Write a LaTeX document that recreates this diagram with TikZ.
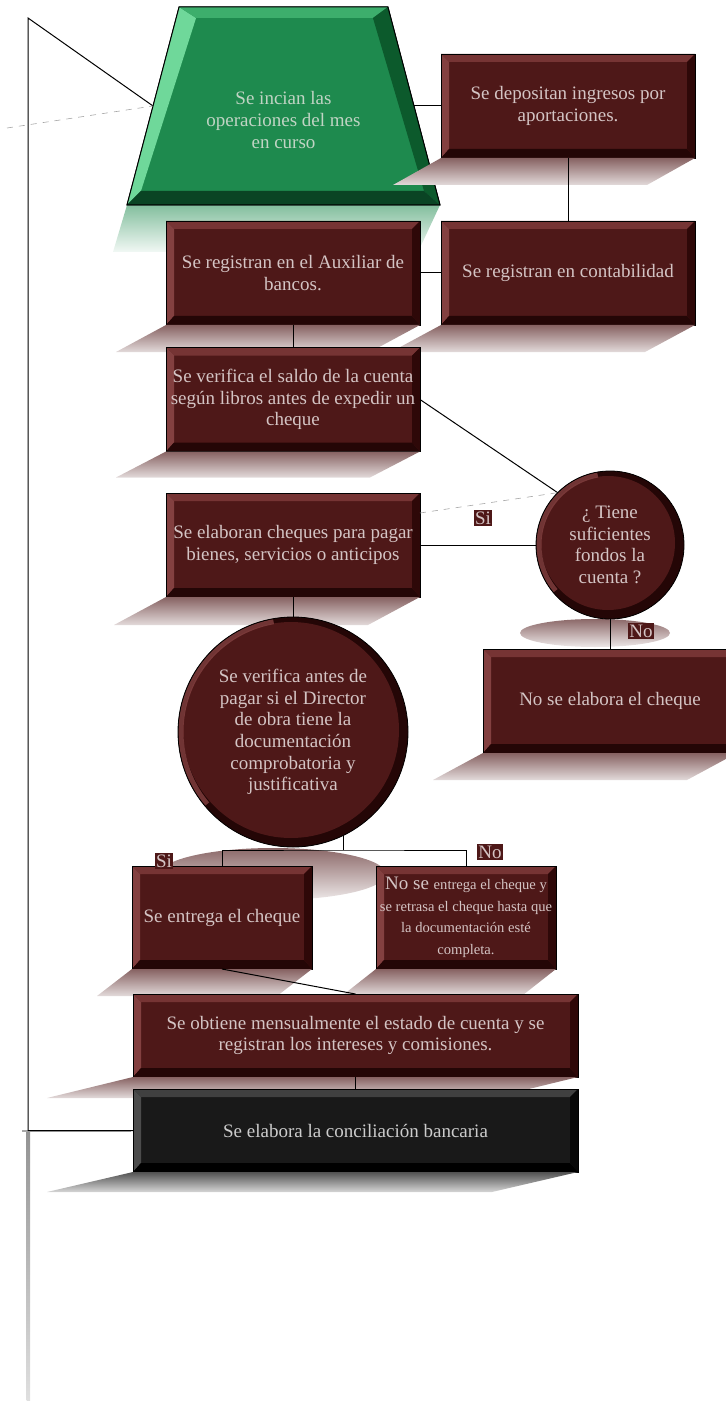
\documentclass[tikz,border=0pt]{standalone}
\usepackage{fontspec}
\setmainfont{Liberation Serif}
\definecolor{boxred}{HTML}{4E1818}
\definecolor{boxtext}{HTML}{D4C4C4}
\definecolor{bevtop}{HTML}{763434}
\definecolor{bevleft}{HTML}{834040}
\definecolor{bevbottom}{HTML}{240606}
\definecolor{bevright}{HTML}{2E0808}
\definecolor{startgreen}{HTML}{1E8A4E}
\definecolor{greentext}{HTML}{C0D4C4}
\definecolor{greenleft}{HTML}{6FD89A}
\definecolor{greentop}{HTML}{3DAE6C}
\definecolor{greenright}{HTML}{0C5A2C}
\definecolor{greenbottom}{HTML}{0A4424}
\usetikzlibrary{shapes.geometric}

\newcommand{\boxfont}{\fontsize{9.5}{10.8}\selectfont}
\newcommand{\smallfont}{\fontsize{7.3}{10.8}\selectfont}

% bevelled edges of a box: top, left, bottom, right colour
\newcommand{\bevel}[4]{%
  \fill[#1] (path picture bounding box.north west) -- (path picture bounding box.north east)
    -- ([shift={(-4pt,-4pt)}]path picture bounding box.north east)
    -- ([shift={(4pt,-4pt)}]path picture bounding box.north west) -- cycle;
  \fill[#2] (path picture bounding box.north west) -- (path picture bounding box.south west)
    -- ([shift={(4pt,4.5pt)}]path picture bounding box.south west)
    -- ([shift={(4pt,-4pt)}]path picture bounding box.north west) -- cycle;
  \fill[#3] (path picture bounding box.south west) -- (path picture bounding box.south east)
    -- ([shift={(-4pt,4.5pt)}]path picture bounding box.south east)
    -- ([shift={(4pt,4.5pt)}]path picture bounding box.south west) -- cycle;
  \fill[#4] (path picture bounding box.north east) -- (path picture bounding box.south east)
    -- ([shift={(-4pt,4.5pt)}]path picture bounding box.south east)
    -- ([shift={(-4pt,-4pt)}]path picture bounding box.north east) -- cycle;}

% rim of a round node, #1 = radius
\newcommand{\rim}[1]{%
  \fill[bevbottom] (path picture bounding box.center) circle[radius=#1];
  \fill[boxred] ([shift={(-1pt,1pt)}]path picture bounding box.center) circle[radius=#1-3.5pt];
  \draw[bevleft, line width=2.5pt, opacity=.8]
    ([shift={(100:#1-1.5pt)}]path picture bounding box.center)
    arc[start angle=100, end angle=220, radius=#1-1.5pt];}

% slanted reflection under a box: node, shift to the left, height, colour
\newcommand{\mirror}[4]{%
  \shade[top color=#4!68!white, bottom color=#4!16!white]
    (#1.south west) -- (#1.south east) -- ([shift={(-#2,#3)}]#1.south east)
    -- ([shift={(-#2,#3)}]#1.south west) -- cycle;}

\begin{document}
\begin{tikzpicture}[x=0.5pt, y=-0.5pt,
    redbox/.style={rectangle, draw=black, fill=boxred, outer sep=0pt, inner sep=1pt,
                   minimum width=127pt, minimum height=52pt,
                   text=boxtext, font=\boxfont, align=center,
                   path picture={\bevel{bevtop}{bevleft}{bevbottom}{bevright}}},
    smallred/.style={redbox, minimum width=90pt, minimum height=51.5pt},
    widebox/.style={redbox, minimum width=222.5pt, minimum height=41.5pt},
    darkbox/.style={widebox, fill=black!90, text=black!20,
                    path picture={\bevel{black!75}{black!70}{black}{black!97}}},
    roundnode/.style={circle, draw=black, fill=boxred, outer sep=0pt, inner sep=0pt,
                      minimum size=2*#1, text=boxtext, font=\boxfont, align=center,
                      path picture={\rim{#1}}},
    startshape/.style={trapezium, trapezium stretches=true,
                       trapezium left angle=76, trapezium right angle=76,
                       minimum width=156.5pt, minimum height=99pt,
                       draw=black, fill=startgreen, outer sep=0pt},
    greenlabel/.style={text=greentext, font=\boxfont, align=center},
    lbl/.style={fill=boxred, text=boxtext, font=\boxfont, inner sep=0.6pt},
    link/.style={draw=black, line width=0.5pt},
    ghost/.style={draw=gray!70, dashed, line width=0.3pt}
  ]
  \useasboundingbox (0,0) rectangle (725,1401);

  % start of the month
  \shade[top color=startgreen!55!white, bottom color=startgreen!6!white]
    (127,205) -- (440,205) -- (418,252) -- (113,252) -- cycle;
  \node[startshape] (start) at (283.5,106) {};
  \fill[greenleft] (start.bottom left corner) -- (start.top left corner)
    -- ([shift={(17,11)}]start.top left corner) -- ([shift={(14,-14)}]start.bottom left corner) -- cycle;
  \fill[greentop] (start.top left corner) -- (start.top right corner)
    -- ([shift={(-15,11)}]start.top right corner) -- ([shift={(17,11)}]start.top left corner) -- cycle;
  \fill[greenright] (start.top right corner) -- (start.bottom right corner)
    -- ([shift={(-16,-14)}]start.bottom right corner) -- ([shift={(-15,11)}]start.top right corner) -- cycle;
  \fill[greenbottom] (start.bottom left corner) -- (start.bottom right corner)
    -- ([shift={(-16,-14)}]start.bottom right corner) -- ([shift={(14,-14)}]start.bottom left corner) -- cycle;
  \draw[line width=0.5pt] (start.bottom left corner) -- (start.top left corner)
    -- (start.top right corner) -- (start.bottom right corner) -- cycle;
  \node[greenlabel] (starttext) at (283.5,120) {Se incian las\\operaciones del mes\\en curso};

  \node[redbox] (dep) at (568,106) {Se depositan ingresos por\\aportaciones.};
  \mirror{dep}{48}{27}{boxred}
  \node[redbox] (aux) at (293,273) {Se registran en el Auxiliar de\\bancos.};
  \mirror{aux}{50}{27}{boxred}
  \node[redbox] (cont) at (568,273) {Se registran en contabilidad};
  \mirror{cont}{50}{27}{boxred}
  \node[redbox] (saldo) at (293,399.5) {Se verifica el saldo de la cuenta\\según libros antes de expedir un\\cheque};
  \mirror{saldo}{50}{26}{boxred}
  \node[redbox] (elab) at (293,545) {Se elaboran cheques para pagar\\bienes, servicios o anticipos};
  \mirror{elab}{52}{28}{boxred}

  % decisions
  \shade[top color=boxred!65!white, bottom color=boxred!10!white] (595,633) ellipse[x radius=75, y radius=14];
  \node[roundnode=37pt] (chk) at (610,545) {¿ Tiene\\suficientes\\fondos la\\cuenta ?};
  \node[redbox] (noelab) at (610,701) {No se elabora el cheque};
  \mirror{noelab}{50}{27}{boxred}
  \shade[top color=boxred!65!white, bottom color=boxred!10!white] (273,874) ellipse[x radius=113, y radius=26];
  \node[roundnode=57.5pt] (ver) at (293,732) {Se verifica antes de\\pagar si el Director\\de obra tiene la\\documentación\\comprobatoria y\\justificativa};

  \node[smallred] (entrega) at (222,917.5) {Se entrega el cheque};
  \mirror{entrega}{35}{27}{boxred}
  \node[smallred] (noentrega) at (466,917.5) {No se {\smallfont entrega el cheque y}\\{\smallfont se retrasa el cheque hasta que}\\{\smallfont la documentación esté}\\{\smallfont completa.}};
  \mirror{noentrega}{33}{26}{boxred}

  \node[widebox] (mensual) at (355.5,1035.5) {Se obtiene mensualmente el estado de cuenta y se\\registran los intereses y comisiones.};
  \mirror{mensual}{86}{21}{boxred}
  \node[darkbox] (concil) at (355.5,1130.5) {Se elabora la conciliación bancaria};
  \mirror{concil}{86}{20}{black}

  % connectors
  \coordinate (tl) at (28,18);
  \coordinate (lv) at (0,850);
  \coordinate (fork) at (ver.-64 |- lv);
  \shade[top color=gray!85, bottom color=gray!25] (26.5,1131) rectangle (30,1400);
  \draw[gray!70, line width=0.8pt] (22,1131) -- (131,1131);
  \draw[link] (concil.west) -| (tl) -- (start.west);
  \draw[link] (start.east) -- (dep.west);
  \draw[link] (dep.south) -- (cont.north);
  \draw[link] (cont.west) -- (aux.east);
  \draw[link] (aux.south) -- (saldo.north);
  \draw[link] (saldo.east) -- (chk.135);
  \draw[link] (chk.west) -- (elab.east);
  \draw[link] (chk.south) -- (noelab.north);
  \draw[link] (elab.south) -- (ver.north);
  \draw[link] (ver.-64) -- (fork);
  \draw[link] (entrega.north) |- (fork) -| (noentrega.north);
  \draw[link] (entrega.south) -- (mensual.north);
  \draw[link] (mensual.south) -- (concil.north);
  \coordinate (gl) at (7,128);
  \coordinate (gr) at (420,513);
  \draw[ghost] (gl) -- (start.west);
  \draw[ghost] (gr) -- (chk.135);

  \node[lbl] (si1) at (483,518) {Si};
  \node[lbl] (no1) at (641,631) {No};
  \node[lbl] (si2) at (164,861) {Si};
  \node[lbl] (no2) at (490,852) {No};
\end{tikzpicture}
\end{document}
